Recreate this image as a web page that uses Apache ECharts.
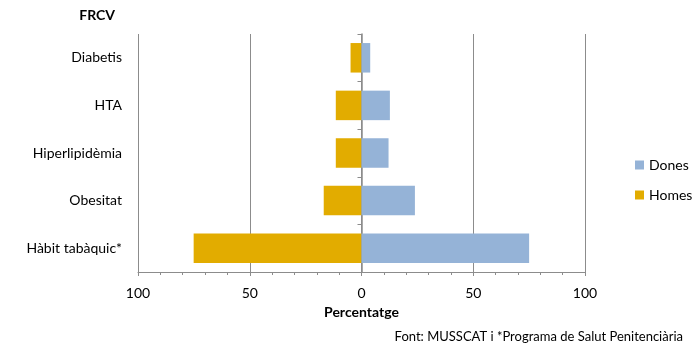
<!DOCTYPE html>
<html>
<head>
<meta charset="utf-8">
<script src="https://cdn.jsdelivr.net/npm/echarts@6/dist/echarts.min.js"></script>
<style>
  html, body { margin: 0; padding: 0; background: #fff; }
  #chart { width: 695px; height: 345px; }
</style>
</head>
<body>
<div id="chart"></div>
<script>
// Cardiovascular risk factors by sex (%)
const categories = ['Hàbit tabàquic*', 'Obesitat', 'Hiperlipidèmia', 'HTA', 'Diabetis'];
const dones = [75.0, 23.9, 12.1, 12.7, 3.9];
const homes = [75.1, 16.9, 11.5, 11.5, 4.9];
const xTicks = [-100, -50, 0, 50, 100];

const FONT = 'Lato, "Open Sans", sans-serif';
const GRAY = '#8c8c8c';

const chart = echarts.init(document.getElementById('chart'), null, { renderer: 'canvas' });

chart.setOption({
  animation: false,
  textStyle: { fontFamily: FONT },
  grid: { left: 138, right: 110, top: 34, bottom: 73, containLabel: false },
  legend: {
    orient: 'vertical',
    left: 630,
    top: 153,
    itemWidth: 9,
    itemHeight: 9,
    itemGap: 16,
    icon: 'rect',
    textStyle: { fontSize: 14, color: '#000', fontFamily: FONT },
    data: ['Dones', 'Homes']
  },
  xAxis: {
    type: 'value',
    min: xTicks[0],
    max: xTicks[xTicks.length - 1],
    interval: 50,
    axisLine: { show: true, onZero: false, lineStyle: { color: GRAY, width: 1 } },
    axisTick: { show: true, length: 4, lineStyle: { color: GRAY } },
    minorTick: { show: true, splitNumber: 5, length: 3, lineStyle: { color: GRAY } },
    splitLine: { show: true, lineStyle: { color: GRAY, width: 1 } },
    axisLabel: {
      color: '#000',
      fontSize: 14,
      margin: 14,
      formatter: v => String(Math.abs(v))
    },
    name: 'Percentatge',
    nameLocation: 'middle',
    nameGap: 33,
    nameTextStyle: { fontWeight: 'bold', fontSize: 14, color: '#000' }
  },
  yAxis: [
    {
      // category labels on the left edge of the plot
      type: 'category',
      data: categories,
      position: 'left',
      axisLine: { show: false, onZero: false },
      axisTick: { show: false },
      axisLabel: { color: '#000', fontSize: 14, margin: 16 }
    },
    {
      // centre spine at x = 0 with ticks between categories
      type: 'category',
      data: categories,
      position: 'left',
      axisLine: { show: true, onZero: true, lineStyle: { color: GRAY, width: 1.5 } },
      axisTick: { show: true, inside: false, length: 4, lineStyle: { color: GRAY } },
      axisLabel: { show: false },
      splitLine: { show: false }
    }
  ],
  series: [
    {
      name: 'Homes',
      type: 'bar',
      stack: 'total',
      yAxisIndex: 0,
      barWidth: '62%',
      itemStyle: { color: '#E2AC00' },
      data: homes.map(v => -v)
    },
    {
      name: 'Dones',
      type: 'bar',
      stack: 'total',
      yAxisIndex: 0,
      barWidth: '62%',
      itemStyle: { color: '#95B3D7' },
      data: dones
    }
  ],
  graphic: [
    {
      type: 'text',
      right: 580,
      top: 8,
      style: {
        text: 'FRCV',
        fontSize: 14,
        fontWeight: 'bold',
        fontFamily: FONT,
        fill: '#000'
      }
    },
    {
      type: 'text',
      right: 12,
      top: 330,
      style: {
        text: 'Font: MUSSCAT i *Programa de Salut Penitenciària',
        fontSize: 13,
        fontFamily: FONT,
        fill: '#000'
      }
    }
  ]
});
</script>
</body>
</html>
